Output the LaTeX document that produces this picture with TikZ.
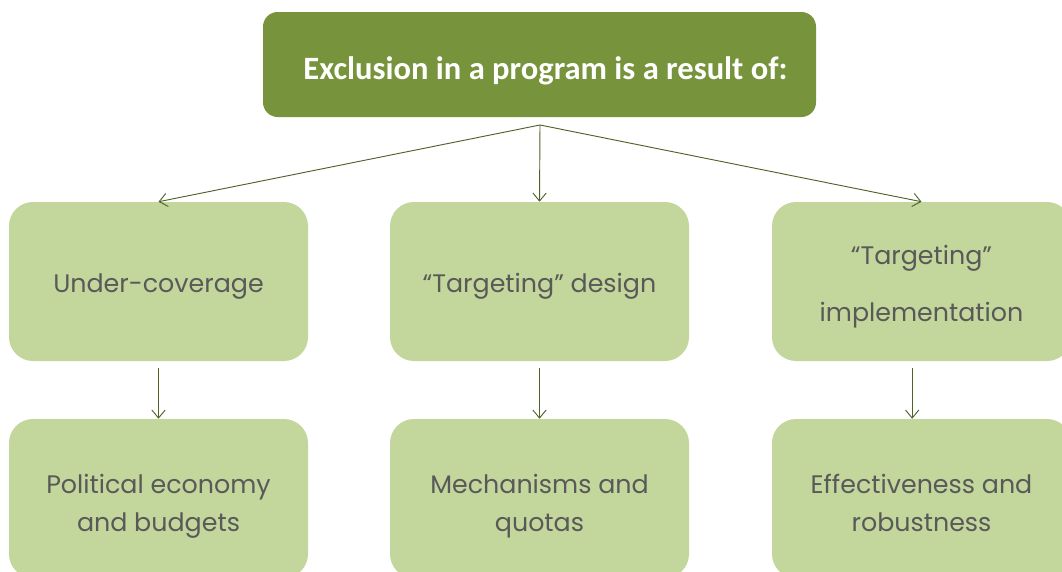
\documentclass[tikz,border=0pt]{standalone}
\usepackage{fontspec}
\setmainfont{Poppins}
\newfontfamily\headfont{Carlito}
\usetikzlibrary{arrows.meta}
\definecolor{oliveDark}{RGB}{119,147,60}
\definecolor{oliveLight}{RGB}{195,214,155}
\definecolor{oliveLine}{RGB}{79,98,40}
\definecolor{greyText}{RGB}{89,89,89}
\newcommand{\celltext}[2][2.5pt]{\raisebox{-#1}[\height][\depth]{\begin{tabular}{@{}c@{}}#2\end{tabular}}}

\begin{document}
\begin{tikzpicture}[x=0.75pt,y=0.75pt,yscale=-1,xscale=1,
  topbox/.style={fill=oliveDark, rounded corners=11pt, minimum width=414.75pt, minimum height=78.75pt, text=white, font=\headfont\bfseries\fontsize{24.4}{29}\selectfont},
  catbox/.style={fill=oliveLight, rounded corners=18pt, minimum width=224.25pt, minimum height=119.25pt, text=greyText, align=center, font=\fontsize{19}{28.5}\selectfont},
  link/.style={draw=oliveLine, line width=0.7pt, -{Straight Barb[length=6pt,width=10pt]}}]
%set diagram size 1062 x 571
\clip (0,0) rectangle (1062,571);

%Rounded Rect: title
\node [topbox] (excl) at (539.5,64.5) {\raisebox{-4.5pt}[\height][\depth]{\hspace{9pt}Exclusion in a program is a result of:}};
\coordinate (split) at (540,125);

%Rounded Rect: first row
\node [catbox] (under) at (158.5,281.5) {\celltext{Under-coverage}};
\node [catbox] (design) at (539.5,281.5) {\celltext{“Targeting” design}};
\node [catbox] (impl) at (921.5,281.5) {\celltext[3pt]{“Targeting”\\[14pt]implementation}};

%Rounded Rect: second row
\node [catbox] (polit) at (158.5,498.5) {\celltext[4.5pt]{Political economy\\and budgets}};
\node [catbox] (mech) at (539.5,498.5) {\celltext[4.5pt]{Mechanisms and\\quotas}};
\node [catbox] (effect) at (921.5,498.5) {\celltext[4.5pt]{Effectiveness and\\robustness}};

%Straight Lines: from title
\draw [link] (split) -- (under.north);
\draw [link] (split) -- (design.north);
\draw [link] (split) -- (impl.north);

%Straight Lines: down
\draw [link, shorten <=5pt] (under.south) -- (polit.north);
\draw [link, shorten <=5pt] (design.south) -- (mech.north);
\draw [link, shorten <=5pt] ([xshift=-7pt]impl.south) -- ([xshift=-7pt]effect.north);

\end{tikzpicture}
\end{document}
